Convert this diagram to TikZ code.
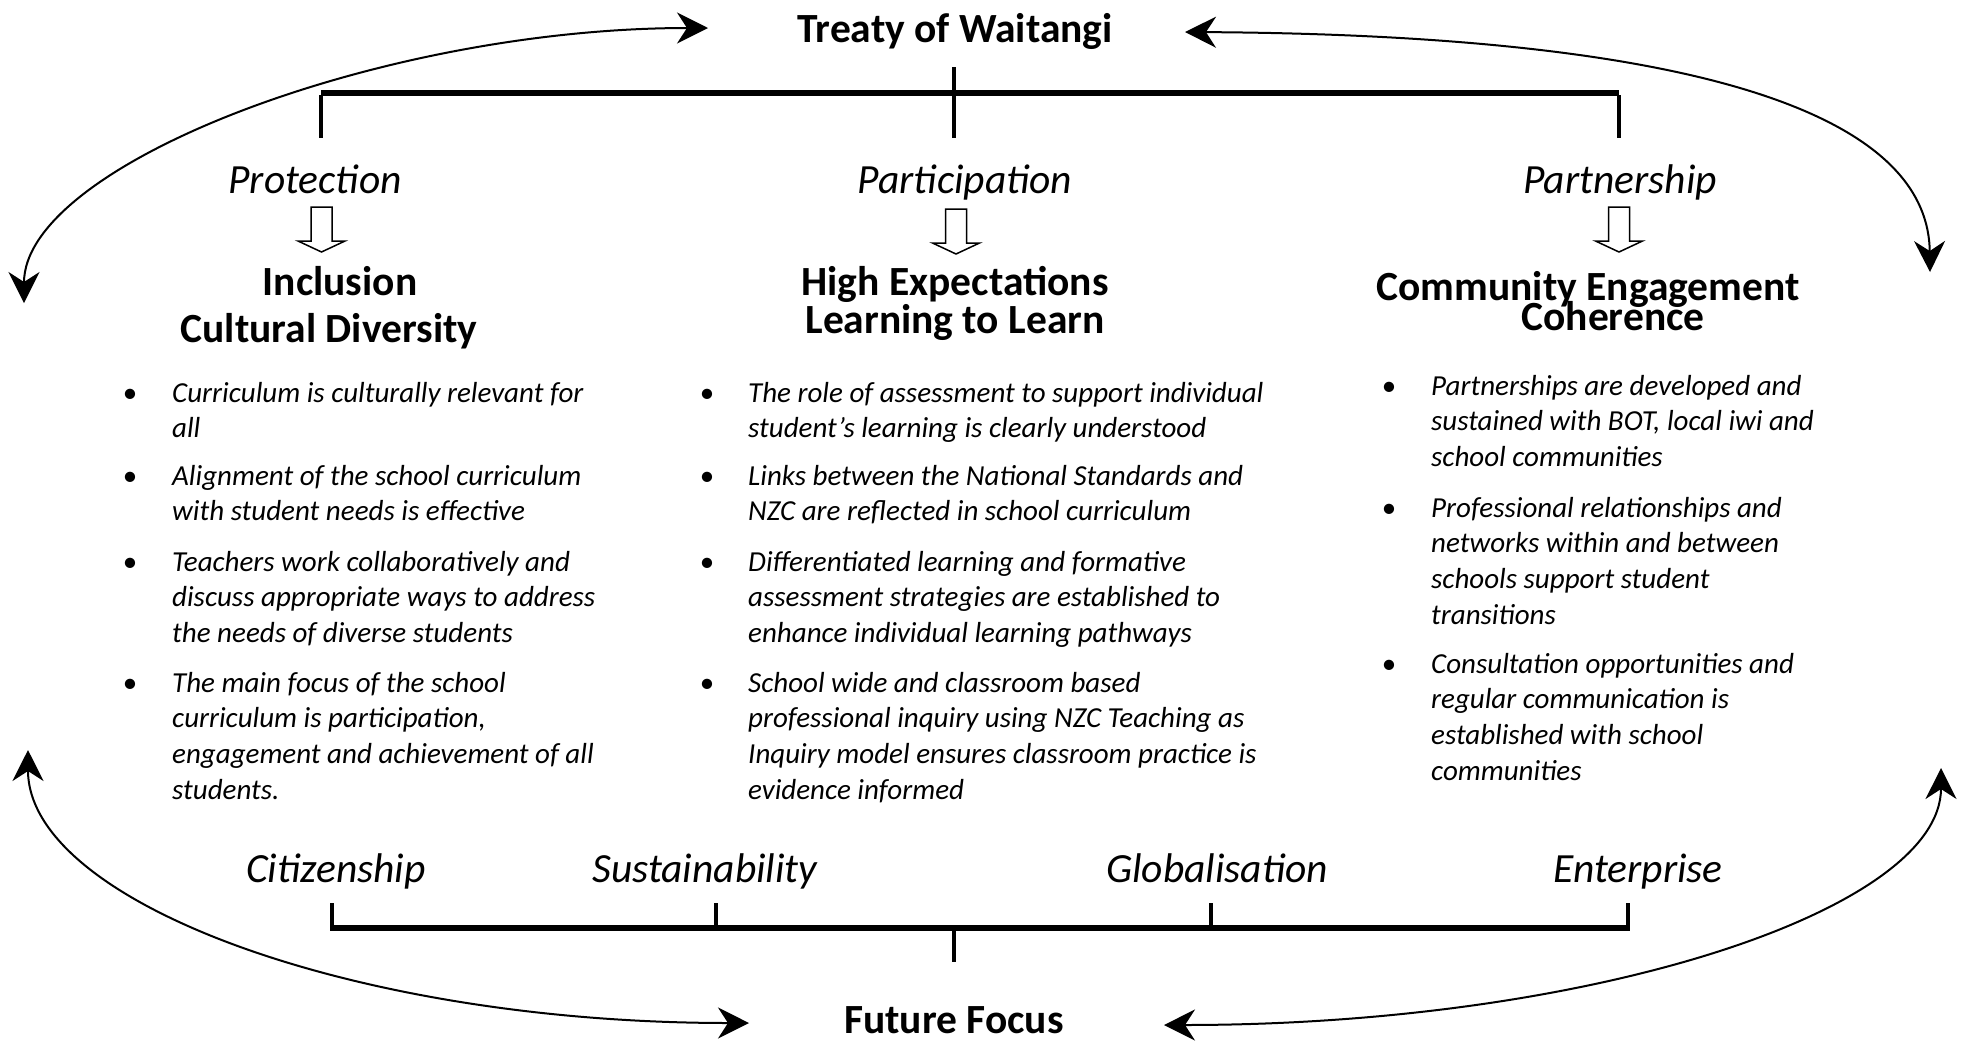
\documentclass[tikz,border=0pt]{standalone}
\usepackage{fontspec}
\setmainfont{Carlito}
\usetikzlibrary{arrows.meta}
\newcommand{\mlines}[1]{\begin{tabular}[t]{@{}l@{}}#1\end{tabular}}
\tikzset{
  hd/.style={font=\fontsize{41.5}{44}\selectfont\bfseries, inner sep=0pt, anchor=base},
  pr/.style={font=\fontsize{41.5}{44}\selectfont\itshape, inner sep=0pt, anchor=base},
  body/.style={font=\fontsize{29}{35.8}\selectfont\itshape, inner sep=0pt, anchor=base west},
  bul/.style={font=\fontsize{29}{35.8}\selectfont, inner sep=0pt, anchor=base},
  bar/.style={line width=5.5pt},
  tick/.style={line width=4pt},
  cyc/.style={line width=2pt, {Stealth[length=31pt,width=31pt,inset=10pt]}-{Stealth[length=31pt,width=31pt,inset=10pt]}},
  hollowdown/.pic={\draw[line width=1.5pt, fill=white] (-10.5,0) -- (10.5,0) -- (10.5,34) -- (23.5,34) -- (0,45) -- (-23.5,34) -- (-10.5,34) -- cycle;}
}
\begin{document}
\begin{tikzpicture}[x=1pt,y=-1pt]
\useasboundingbox[fill=white] (0,0) rectangle (1966,1042);

% titles
\node[hd] (treaty) at (955,42) {Treaty of Waitangi};
\node[hd] (future) at (954,1033) {Future Focus};

% top bracket
\coordinate (tc) at (954,67);
\coordinate (tl) at (321,93);
\coordinate (tr) at (1619,93);
\coordinate (tlb) at (321,138);
\coordinate (tmb) at (954,138);
\coordinate (trb) at (1619,138);
\draw[bar] (tl) -- (tr);
\draw[tick] (tc) -- (tmb);
\draw[tick] ([yshift=-2pt]tl) -- (tlb);
\draw[tick] ([yshift=-2pt]tr) -- (trb);

% principles
\node[pr] (prot) at (315,193) {Protection};
\node[pr] (part) at (965,193) {Participation};
\node[pr] (partn) at (1620,193) {Partnership};

\pic at (321.5,207) {hollowdown};
\pic at (956,209) {hollowdown};
\pic at (1619,207) {hollowdown};

% headings
\node[hd] (incl) at (340,295) {Inclusion};
\node[hd] (cult) at (329,342) {Cultural Diversity};
\node[hd] (high) at (955,295) {High Expectations};
\node[hd] (learn) at (955,333) {Learning to Learn};
\node[hd] (comm) at (1588,300) {Community Engagement};
\node[hd] (coh) at (1613,330) {Coherence};

% left column
\node[bul] (lb1) at (130,402) {•};
\node[body] (l1) at (172,402) {\mlines{Curriculum is culturally relevant for\\all}};
\node[bul] (lb2) at (130,485) {•};
\node[body] (l2) at (172,485) {\mlines{Alignment of the school curriculum\\with student needs is effective}};
\node[bul] (lb3) at (130,571) {•};
\node[body] (l3) at (172,571) {\mlines{Teachers work collaboratively and\\discuss appropriate ways to address\\the needs of diverse students}};
\node[bul] (lb4) at (130,692) {•};
\node[body] (l4) at (172,692) {\mlines{The main focus of the school\\curriculum is participation,\\engagement and achievement of all\\students.}};

% middle column
\node[bul] (mb1) at (707,402) {•};
\node[body] (m1) at (748,402) {\mlines{The role of assessment to support individual\\student’s learning is clearly understood}};
\node[bul] (mb2) at (707,485) {•};
\node[body] (m2) at (748,485) {\mlines{Links between the National Standards and\\NZC are reflected in school curriculum}};
\node[bul] (mb3) at (707,571) {•};
\node[body] (m3) at (748,571) {\mlines{Differentiated learning and formative\\assessment strategies are established to\\enhance individual learning pathways}};
\node[bul] (mb4) at (707,692) {•};
\node[body] (m4) at (748,692) {\mlines{School wide and classroom based\\professional inquiry using NZC Teaching as\\Inquiry model ensures classroom practice is\\evidence informed}};

% right column
\node[bul] (rb1) at (1389,395) {•};
\node[body] (r1) at (1431,395) {\mlines{Partnerships are developed and\\sustained with BOT, local iwi and\\school communities}};
\node[bul] (rb2) at (1389,517) {•};
\node[body] (r2) at (1431,517) {\mlines{Professional relationships and\\networks within and between\\schools support student\\transitions}};
\node[bul] (rb3) at (1389,673) {•};
\node[body] (r3) at (1431,673) {\mlines{Consultation opportunities and\\regular communication is\\established with school\\communities}};

% future focus labels
\node[pr] (citi) at (336,882) {Citizenship};
\node[pr] (sust) at (705,882) {Sustainability};
\node[pr] (glob) at (1217,882) {Globalisation};
\node[pr] (ent) at (1638,882) {Enterprise};

% bottom bracket
\coordinate (b1) at (332,928);
\coordinate (b2) at (716,928);
\coordinate (b3) at (1211,928);
\coordinate (b4) at (1628,928);
\coordinate (b1t) at (332,903);
\coordinate (b2t) at (716,903);
\coordinate (b3t) at (1211,903);
\coordinate (b4t) at (1628,903);
\coordinate (bm) at (954,928);
\coordinate (bmb) at (954,962);
\draw[bar] ([xshift=-2pt]b1) -- ([xshift=2pt]b4);
\draw[tick] (b1t) -- (b1);
\draw[tick] (b2t) -- (b2);
\draw[tick] (b3t) -- (b3);
\draw[tick] (b4t) -- (b4);
\draw[tick] (bm) -- (bmb);

% cycle arrows
\coordinate (a1) at (708,28);
\coordinate (a2) at (24,303);
\coordinate (a3) at (1185,32);
\coordinate (a4) at (1930,272);
\coordinate (a5) at (28,750);
\coordinate (a6) at (749,1023);
\coordinate (a7) at (1164,1025);
\coordinate (a8) at (1941,768);
\draw[cyc] (a1) .. controls (380,28) and (24,165) .. (a2);
\draw[cyc] (a3) .. controls (1690,35) and (1928,112) .. (a4);
\draw[cyc] (a5) .. controls (28,901) and (351,1023) .. (a6);
\draw[cyc] (a7) .. controls (1593,1025) and (1941,910) .. (a8);
\end{tikzpicture}
\end{document}
